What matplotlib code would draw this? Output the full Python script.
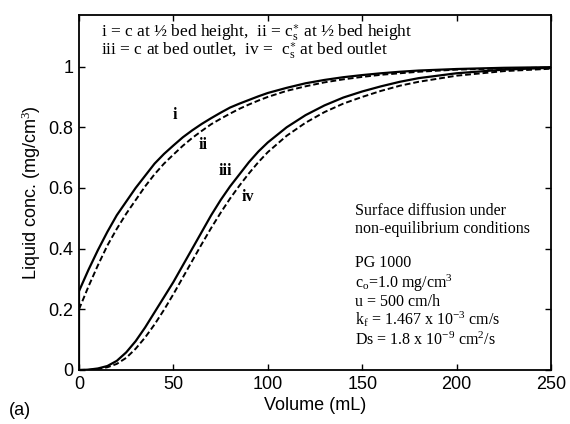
import matplotlib
matplotlib.use("Agg")
import matplotlib.pyplot as plt

# Data
vol = [0, 5, 10, 15, 20, 25, 30, 35, 40, 45, 50, 55, 60, 65, 70, 75, 80, 85, 90, 95, 100,
       110, 120, 130, 140, 150, 160, 170, 180, 200, 225, 250]
c_half = [0.26, 0.33, 0.395, 0.455, 0.51, 0.555, 0.60, 0.64, 0.68, 0.712, 0.74, 0.767, 0.79, 0.811, 0.83,
          0.848, 0.865, 0.878, 0.89, 0.902, 0.913, 0.93, 0.945, 0.956, 0.965, 0.972, 0.978, 0.983, 0.987,
          0.992, 0.996, 0.998]
cs_half = [0.20, 0.275, 0.345, 0.41, 0.465, 0.515, 0.56, 0.605, 0.645, 0.68, 0.71, 0.739, 0.765, 0.788, 0.81,
           0.828, 0.845, 0.861, 0.875, 0.888, 0.90, 0.92, 0.935, 0.948, 0.958, 0.966, 0.973, 0.978, 0.983,
           0.99, 0.994, 0.997]
c_out = [0.0, 0.001, 0.005, 0.013, 0.03, 0.058, 0.095, 0.14, 0.19, 0.24, 0.29, 0.345, 0.40, 0.455, 0.51,
         0.56, 0.605, 0.645, 0.685, 0.72, 0.75, 0.80, 0.84, 0.872, 0.898, 0.918, 0.935, 0.95, 0.962,
         0.978, 0.99, 0.996]
cs_out = [0.0, 0.0005, 0.003, 0.009, 0.02, 0.04, 0.07, 0.107, 0.15, 0.198, 0.25, 0.305, 0.36, 0.415, 0.468,
          0.518, 0.565, 0.608, 0.648, 0.685, 0.718, 0.772, 0.815, 0.85, 0.878, 0.90, 0.92, 0.937, 0.95,
          0.97, 0.985, 0.993]

xticks = [0, 50, 100, 150, 200, 250]
yticks = [0, 0.2, 0.4, 0.6, 0.8, 1]
ytick_labels = ["0", "0.2", "0.4", "0.6", "0.8", "1"]

plt.rcParams["mathtext.fontset"] = "custom"
plt.rcParams["mathtext.rm"] = "Liberation Serif"
plt.rcParams["mathtext.it"] = "Liberation Serif:italic"

fig = plt.figure(figsize=(5.70, 4.24), dpi=100)
ax = fig.add_axes([0.1386, 0.1274, 0.8281, 0.8372])

dash = (0, (3, 1.5))
ax.plot(vol, c_half, color="black", lw=1.6)
ax.plot(vol, cs_half, color="black", lw=1.4, ls=dash)
ax.plot(vol, c_out, color="black", lw=1.6)
ax.plot(vol, cs_out, color="black", lw=1.4, ls=dash)
# vertical start segments at x = 0
ax.plot([0, 0], [0, c_half[0]], color="black", lw=1.6)
ax.plot([0, 0], [0.08, cs_half[0]], color="black", lw=1.4, ls=dash)

ax.set_xlim(0, 250)
ax.set_ylim(0, 1.17)
ax.set_xticks(xticks)
ax.set_yticks(yticks)
ax.set_yticklabels(ytick_labels)
ax.tick_params(direction="in", length=4, width=1, labelsize=13, top=True, right=True, pad=4)
for lab in ax.get_xticklabels() + ax.get_yticklabels():
    lab.set_family("Liberation Sans")
for s in ax.spines.values():
    s.set_linewidth(1.3)

ax.set_xlabel("Volume (mL)", fontsize=13, family="Liberation Sans", labelpad=3)
ax.set_ylabel("Liquid conc. (mg/cm$^3$)", fontsize=13, family="Liberation Sans", labelpad=4)

serif = "Liberation Serif"
tr = ax.transAxes

ax.text(0.0466, 0.9408, "i = c at ½ bed height,  ii = c$_\\mathrm{s}^{\\ast}$ at ½ bed height",
        transform=tr, family=serif, fontsize=12.5, va="baseline", ha="left")
ax.text(0.0466, 0.8901, "iii = c at bed outlet,  iv =  c$_\\mathrm{s}^{\\ast}$ at bed outlet",
        transform=tr, family=serif, fontsize=12.5, va="baseline", ha="left")

ax.text(50.5, 0.84, "i", family=serif, fontsize=11.5, fontweight="bold", ha="center", va="center")
ax.text(65.5, 0.74, "ii", family=serif, fontsize=11.5, fontweight="bold", ha="center", va="center")
ax.text(77.5, 0.655, "iii", family=serif, fontsize=11.5, fontweight="bold", ha="center", va="center")
ax.text(89.5, 0.57, "iv", family=serif, fontsize=11.5, fontweight="bold", ha="center", va="center")

box_lines = ["Surface diffusion under", "non-equilibrium conditions", "PG 1000",
             "c$_\\mathrm{o}$=1.0 mg/cm$^3$", "u = 500 cm/h",
             "k$_\\mathrm{f}$ = 1.467 x 10$^{-3}$ cm/s", "Ds = 1.8 x 10$^{-9}$ cm$^2$/s"]
box_y = [0.4366, 0.3859, 0.2901, 0.2310, 0.1803, 0.1268, 0.0704]
for line, yy in zip(box_lines, box_y):
    ax.text(0.5847, yy, line, transform=tr, family=serif, fontsize=11.5, ha="left", va="baseline")

fig.text(0.016, 0.012, "(a)", fontsize=13, family="Liberation Sans", ha="left", va="bottom")

fig.savefig("out.png", dpi=100)
